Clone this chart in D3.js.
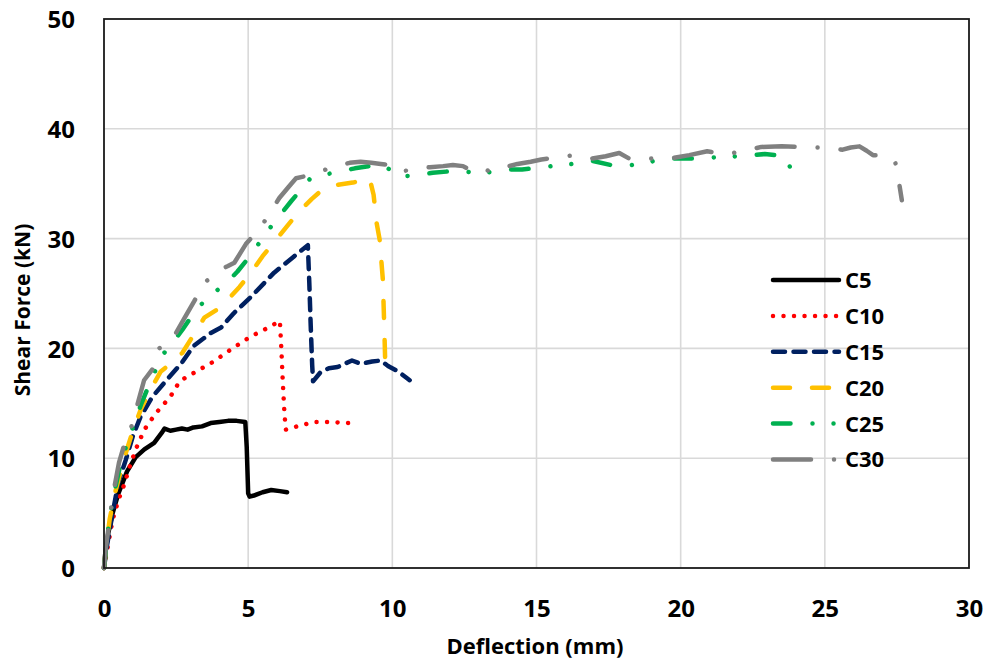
<!DOCTYPE html>
<html>
<head>
<meta charset="utf-8">
<script src="https://cdn.jsdelivr.net/npm/d3@7"></script>
<style>
  html, body { margin: 0; padding: 0; background: #fff; }
  svg { display: block; }
  text { font-family: "Open Sans", "DejaVu Sans", sans-serif; font-weight: 700; fill: #000; }
</style>
</head>
<body>
<svg id="chart" width="985" height="663"></svg>
<script>
// Shear force (kN) versus deflection (mm) for specimens C5 to C30
const seriesNames = ["C5", "C10", "C15", "C20", "C25", "C30"];

const c5X = [0, 0.05, 0.15, 0.3, 0.5, 0.8, 1.1, 1.4, 1.74, 2.0, 2.1, 2.3, 2.5, 2.7, 2.9, 3.1, 3.4, 3.7, 4.0, 4.3, 4.6, 4.9, 4.95, 5.0, 5.05, 5.2, 5.5, 5.8, 6.1, 6.35];
const c5Y = [0, 1.5, 3.2, 5.0, 6.8, 8.8, 10.1, 10.8, 11.4, 12.3, 12.7, 12.5, 12.6, 12.7, 12.6, 12.8, 12.9, 13.2, 13.3, 13.4, 13.4, 13.3, 11.0, 6.8, 6.5, 6.6, 6.9, 7.1, 7.0, 6.9];

const c10X = [0, 0.1, 0.3, 0.5, 0.7, 0.9, 1.1, 1.4, 1.8, 2.3, 2.6, 2.8, 3.2, 3.8, 4.4, 5.1, 5.7, 6.1, 6.15, 6.2, 6.25, 6.3, 6.7, 7.3, 7.8, 8.5];
const c10Y = [0, 1.5, 4.4, 6.2, 7.6, 9.3, 10.8, 12.6, 14.1, 15.6, 16.9, 17.3, 17.9, 18.8, 19.9, 21.1, 21.9, 22.5, 20.0, 17.0, 14.5, 12.6, 12.9, 13.3, 13.3, 13.2];

const c15X = [0, 0.1, 0.3, 0.5, 0.75, 1.0, 1.27, 1.68, 2.2, 2.7, 3.1, 3.7, 4.06, 4.5, 5.1, 5.9, 6.6, 7.07, 7.12, 7.17, 7.22, 7.25, 7.5, 7.8, 8.1, 8.6, 8.9, 9.3, 9.6, 9.85, 10.2, 10.5, 10.6];
const c15Y = [0, 2.0, 5.0, 7.8, 9.8, 12.0, 13.8, 15.6, 17.2, 18.7, 20.2, 21.4, 21.9, 23.2, 24.7, 26.9, 28.4, 29.4, 26.0, 22.0, 18.5, 17.0, 17.8, 18.2, 18.3, 18.9, 18.6, 18.8, 18.9, 18.4, 17.9, 17.3, 17.1];

const c20X = [0, 0.1, 0.2, 0.4, 0.7, 1.0, 1.27, 1.6, 1.97, 2.3, 2.72, 3.1, 3.48, 3.9, 4.28, 4.7, 5.1, 5.5, 5.97, 6.4, 6.78, 7.2, 7.59, 8.1, 8.63, 9.21, 9.35, 9.45, 9.56, 9.67, 9.72, 9.76];
const c20Y = [0, 2.5, 4.5, 7.0, 10.0, 12.5, 14.4, 16.2, 17.9, 18.6, 19.6, 21.2, 22.8, 23.5, 24.4, 25.6, 26.9, 28.4, 29.9, 31.3, 32.5, 33.6, 34.5, 34.9, 35.1, 35.5, 34.0, 31.5, 29.9, 26.3, 22.0, 18.1];

const c25X = [0, 0.1, 0.2, 0.35, 0.6, 0.93, 1.3, 1.68, 2.03, 2.4, 2.72, 3.24, 3.88, 4.3, 4.63, 5.0, 5.3, 5.85, 6.49, 7.13, 7.6, 8.17, 8.7, 9.21, 9.6, 9.9, 10.14, 10.5, 10.95, 11.4, 11.87, 12.4, 12.93, 13.5, 14.0, 14.5, 14.93, 15.5, 16.0, 16.9, 17.75, 18.3, 18.8, 19.3, 19.86, 20.5, 21.2, 21.98, 22.5, 22.92, 23.3, 23.6, 23.7, 23.78, 23.82];
const c25Y = [0, 2.5, 4.8, 6.8, 9.8, 12.3, 15.0, 17.4, 19.4, 20.6, 21.7, 23.7, 25.2, 26.1, 27.0, 28.2, 29.3, 31.3, 33.4, 35.4, 35.8, 36.1, 36.4, 36.6, 36.8, 36.3, 35.8, 35.7, 35.8, 36.0, 36.1, 36.2, 35.9, 36.1, 36.3, 36.3, 36.4, 36.6, 36.7, 37.1, 36.6, 36.7, 36.9, 37.2, 37.3, 37.3, 37.4, 37.5, 37.6, 37.7, 37.6, 37.5, 37.1, 36.6, 36.2];

const c30X = [0, 0.05, 0.12, 0.3, 0.52, 0.7, 0.93, 1.15, 1.39, 1.68, 1.91, 2.2, 2.43, 2.8, 3.13, 3.48, 3.8, 4.06, 4.3, 4.52, 4.92, 5.45, 5.8, 6.08, 6.4, 6.66, 7.0, 7.36, 8.05, 8.52, 8.9, 9.27, 9.6, 9.91, 10.1, 10.25, 10.5, 10.83, 11.3, 11.76, 12.1, 12.45, 12.8, 13.1, 13.52, 13.9, 14.34, 14.8, 15.17, 15.7, 16.34, 16.93, 17.4, 17.87, 18.21, 18.5, 18.8, 19.2, 19.63, 20.3, 20.92, 21.3, 21.62, 22.2, 22.8, 23.5, 24.09, 24.5, 24.91, 25.3, 25.62, 25.9, 26.2, 26.45, 26.67, 26.9, 27.08, 27.3, 27.44, 27.55, 27.67];
const c30Y = [0, 1.5, 2.9, 6.5, 9.6, 11.2, 12.7, 14.8, 17.1, 18.1, 20.0, 20.5, 21.1, 22.8, 24.3, 26.0, 26.6, 27.2, 27.5, 27.8, 29.5, 31.1, 32.5, 33.7, 34.7, 35.5, 35.7, 36.0, 36.6, 36.9, 37.0, 36.9, 36.8, 36.7, 36.3, 36.1, 36.2, 36.4, 36.5, 36.6, 36.7, 36.6, 36.1, 36.3, 36.1, 36.5, 36.8, 37.0, 37.2, 37.4, 37.6, 37.3, 37.5, 37.8, 37.3, 37.4, 37.3, 37.3, 37.3, 37.6, 37.95, 37.8, 37.7, 38.0, 38.35, 38.4, 38.35, 38.3, 38.3, 38.2, 38.1, 38.3, 38.4, 38.0, 37.6, 37.6, 37.5, 37.3, 37.0, 35.5, 33.5];

const xTicks = [0, 5, 10, 15, 20, 25, 30];
const yTicks = [0, 10, 20, 30, 40, 50];

const xTitle = "Deflection (mm)";
const yTitle = "Shear Force (kN)";

// line styles per specimen
const styles = [
  { color: "#000000", dash: null },
  { color: "#FF0000", dash: "0.01,10.5" },
  { color: "#002060", dash: "12,8.5" },
  { color: "#FFC000", dash: "17,22" },
  { color: "#00B050", dash: "17.5,22,0.01,21,0.01,22" },
  { color: "#808080", dash: "38,23,0.01,23" }
];

const allX = [c5X, c10X, c15X, c20X, c25X, c30X];
const allY = [c5Y, c10Y, c15Y, c20Y, c25Y, c30Y];
const series = seriesNames.map((name, i) => ({
  name,
  style: styles[i],
  points: allX[i].map((x, j) => [x, allY[i][j]])
}));

const svg = d3.select("#chart");
const plot = { left: 104, top: 19, right: 969, bottom: 568 };

const x = d3.scaleLinear().domain([0, 30]).range([plot.left, plot.right]);
const y = d3.scaleLinear().domain([0, 50]).range([plot.bottom, plot.top]);

// gridlines
const grid = svg.append("g");
grid.selectAll("line.gx").data(xTicks.slice(1, -1)).join("line")
  .attr("x1", d => x(d)).attr("x2", d => x(d))
  .attr("y1", plot.top).attr("y2", plot.bottom)
  .attr("stroke", "#d9d9d9").attr("stroke-width", 1.6);
grid.selectAll("line.gy").data(yTicks.slice(1, -1)).join("line")
  .attr("x1", plot.left).attr("x2", plot.right)
  .attr("y1", d => y(d)).attr("y2", d => y(d))
  .attr("stroke", "#d9d9d9").attr("stroke-width", 1.6);

// axes (labels only, ticks hidden)
const xAxis = d3.axisBottom(x).tickValues(xTicks).tickSize(0).tickPadding(0);
const yAxis = d3.axisLeft(y).tickValues(yTicks).tickSize(0).tickPadding(0);

const gx = svg.append("g").attr("transform", `translate(0,${plot.bottom})`).call(xAxis);
gx.select(".domain").remove();
gx.selectAll("text")
  .attr("dy", null).attr("y", 49)
  .style("font-family", "'Open Sans', sans-serif").style("font-weight", 700)
  .style("font-size", "24px").attr("fill", "#000");

const gy = svg.append("g").attr("transform", `translate(${plot.left},0)`).call(yAxis);
gy.select(".domain").remove();
gy.selectAll("text")
  .attr("x", -29).attr("dy", "0.36em")
  .style("font-family", "'Open Sans', sans-serif").style("font-weight", 700)
  .style("font-size", "24px").attr("fill", "#000");

// data lines
const line = d3.line().x(d => x(d[0])).y(d => y(d[1]));
const lines = svg.append("g");
series.forEach(s => {
  lines.append("path")
    .datum(s.points)
    .attr("d", line)
    .attr("fill", "none")
    .attr("stroke", s.style.color)
    .attr("stroke-width", 4.5)
    .attr("stroke-linecap", "round")
    .attr("stroke-linejoin", "round")
    .attr("stroke-dasharray", s.style.dash);
});

// plot frame
svg.append("rect")
  .attr("x", plot.left).attr("y", plot.top)
  .attr("width", plot.right - plot.left).attr("height", plot.bottom - plot.top)
  .attr("fill", "none").attr("stroke", "#1a1a1a").attr("stroke-width", 1.8);

// axis titles
svg.append("text")
  .attr("x", 535).attr("y", 654)
  .attr("text-anchor", "middle")
  .style("font-size", "22px")
  .text(xTitle);

svg.append("text")
  .attr("transform", "translate(30,310) rotate(-90)")
  .attr("text-anchor", "middle")
  .style("font-size", "21px")
  .text(yTitle);

// legend
const legend = svg.append("g").attr("transform", "translate(773,280)");
series.forEach((s, i) => {
  const row = legend.append("g").attr("transform", `translate(0,${i * 35.9})`);
  row.append("line")
    .attr("x1", 0).attr("x2", 66).attr("y1", 0).attr("y2", 0)
    .attr("stroke", s.style.color)
    .attr("stroke-width", 4.5)
    .attr("stroke-linecap", "round")
    .attr("stroke-dasharray", s.style.dash);
  row.append("text")
    .attr("x", 72).attr("y", 0).attr("dy", "0.36em")
    .style("font-size", "22px")
    .text(s.name);
});
</script>
</body>
</html>
